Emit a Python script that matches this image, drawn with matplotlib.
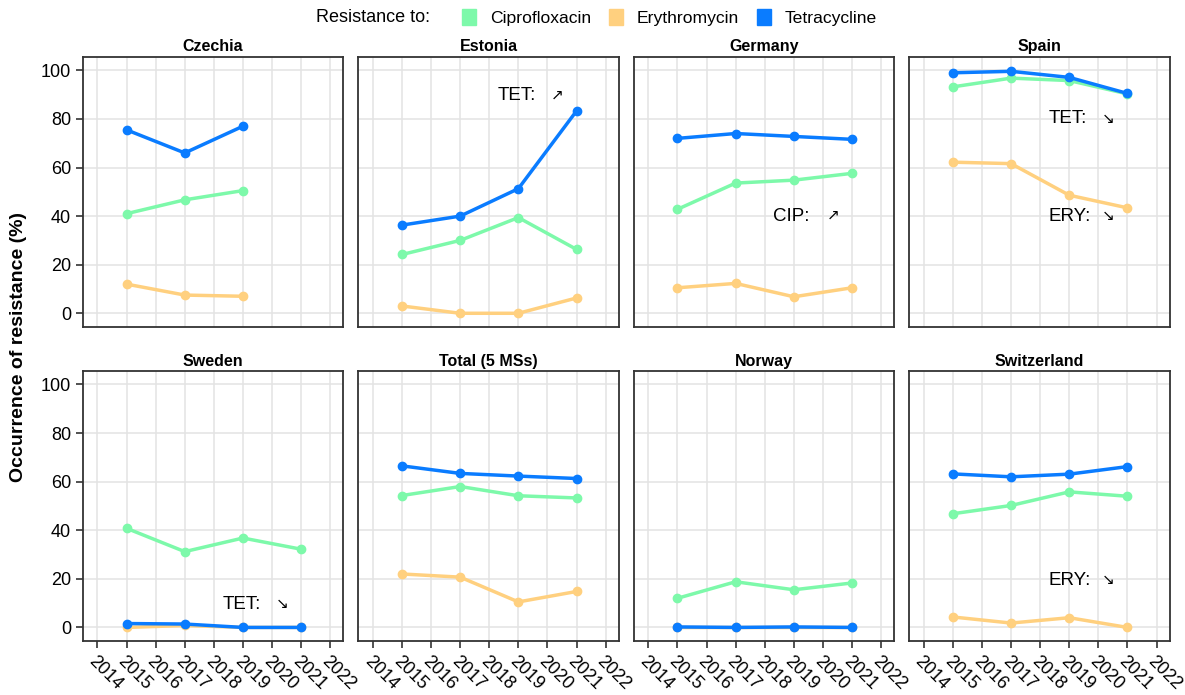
import matplotlib
matplotlib.use("Agg")
import matplotlib.pyplot as plt
from matplotlib.patches import Patch

plt.rcParams['font.family'] = ['Liberation Sans', 'DejaVu Sans']

years4 = [2015, 2017, 2019, 2021]
years3 = [2015, 2017, 2019]

countries = ['Czechia', 'Estonia', 'Germany', 'Spain',
             'Sweden', 'Total (5 MSs)', 'Norway', 'Switzerland']

cip = {
    'Czechia': [41.0, 46.7, 50.5],
    'Estonia': [24.2, 30.0, 39.4, 26.3],
    'Germany': [42.8, 53.6, 54.8, 57.6],
    'Spain': [93.2, 96.8, 95.8, 90.3],
    'Sweden': [40.8, 31.2, 36.8, 32.2],
    'Total (5 MSs)': [54.3, 58.0, 54.2, 53.3],
    'Norway': [12.0, 18.8, 15.5, 18.3],
    'Switzerland': [46.8, 50.2, 55.8, 54.0],
}
ery = {
    'Czechia': [12.0, 7.5, 7.0],
    'Estonia': [3.0, 0.0, 0.0, 6.3],
    'Germany': [10.5, 12.3, 6.8, 10.5],
    'Spain': [62.2, 61.6, 48.6, 43.4],
    'Sweden': [0.0, 0.8, 0.0, 0.0],
    'Total (5 MSs)': [22.0, 20.7, 10.5, 14.8],
    'Norway': [0.0, 0.0, 0.0, 0.0],
    'Switzerland': [4.3, 1.8, 4.0, 0.0],
}
tet = {
    'Czechia': [75.5, 66.0, 77.0],
    'Estonia': [36.3, 40.0, 51.3, 83.3],
    'Germany': [72.0, 74.0, 72.8, 71.6],
    'Spain': [99.0, 99.6, 97.1, 90.5],
    'Sweden': [1.6, 1.4, 0.0, 0.0],
    'Total (5 MSs)': [66.5, 63.4, 62.3, 61.3],
    'Norway': [0.2, 0.0, 0.2, 0.0],
    'Switzerland': [63.2, 62.0, 63.1, 66.2],
}

# trend notes: (country, label, y, arrow)
notes = [
    ('Estonia', 'TET:', 89.5, '\u2197'),
    ('Germany', 'CIP:', 40, '\u2197'),
    ('Spain', 'TET:', 80, '\u2198'),
    ('Spain', 'ERY:', 40, '\u2198'),
    ('Sweden', 'TET:', 9.5, '\u2198'),
    ('Switzerland', 'ERY:', 19.5, '\u2198'),
]

c_cip = '#7DF9AA'
c_ery = '#FFD07F'
c_tet = '#0A7CFF'

fig, axes = plt.subplots(2, 4, figsize=(11.85, 6.95), dpi=100, sharex=True, sharey=True)
fig.subplots_adjust(left=0.070, right=0.987, top=0.918, bottom=0.078,
                    wspace=0.058, hspace=0.165)

for ax, name in zip(axes.flat, countries):
    yrs = years3 if len(cip[name]) == 3 else years4
    ax.plot(yrs, cip[name], color=c_cip, lw=2.5, marker='o', ms=6, zorder=3)
    ax.plot(yrs, ery[name], color=c_ery, lw=2.5, marker='o', ms=6, zorder=3)
    ax.plot(yrs, tet[name], color=c_tet, lw=2.5, marker='o', ms=6, zorder=3)
    ax.set_title(name, fontsize=11.5, fontweight='bold', pad=4)
    ax.set_xlim(2013.5, 2022.45)
    ax.set_ylim(-5.5, 105.5)
    ax.set_xticks(range(2014, 2023))
    ax.set_yticks([0, 20, 40, 60, 80, 100])
    ax.grid(True, color='#e3e3e3', lw=1.1, zorder=0)
    ax.set_axisbelow(True)
    for s in ax.spines.values():
        s.set_color('#333333')
        s.set_linewidth(1.3)
    ax.tick_params(axis='both', direction='out', length=5, width=1.1,
                   color='#222222', labelsize=13)
    for lbl in ax.get_xticklabels():
        lbl.set_rotation(-45)
        lbl.set_ha('left')
        lbl.set_rotation_mode('anchor')

for name, lab, y, arr in notes:
    ax = axes.flat[countries.index(name)]
    ax.text(2018.3, y, lab, fontsize=13.5, va='center', ha='left', zorder=4)
    ax.text(2020.35, y, arr, fontsize=11, va='center', ha='center', zorder=4)

for ax in axes[0]:
    ax.tick_params(axis='x', length=0)
for ax in axes[:, 1:].flat:
    ax.tick_params(axis='y', length=0)

fig.text(0.016, 0.5, 'Occurrence of resistance (%)', rotation=90, va='center',
         ha='center', fontsize=14, fontweight='bold')

handles = [Patch(color=c_cip, label='Ciprofloxacin'),
           Patch(color=c_ery, label='Erythromycin'),
           Patch(color=c_tet, label='Tetracycline')]
fig.text(0.363, 0.975, 'Resistance to:', fontsize=13, ha='right', va='center')
fig.legend(handles=handles, loc='center left', bbox_to_anchor=(0.390, 0.975),
           ncol=3, frameon=False, fontsize=12.6, handlelength=0.8, handleheight=1.0,
           handletextpad=0.8, columnspacing=1.0, borderaxespad=0, borderpad=0)

fig.savefig('out.png', dpi=100)
